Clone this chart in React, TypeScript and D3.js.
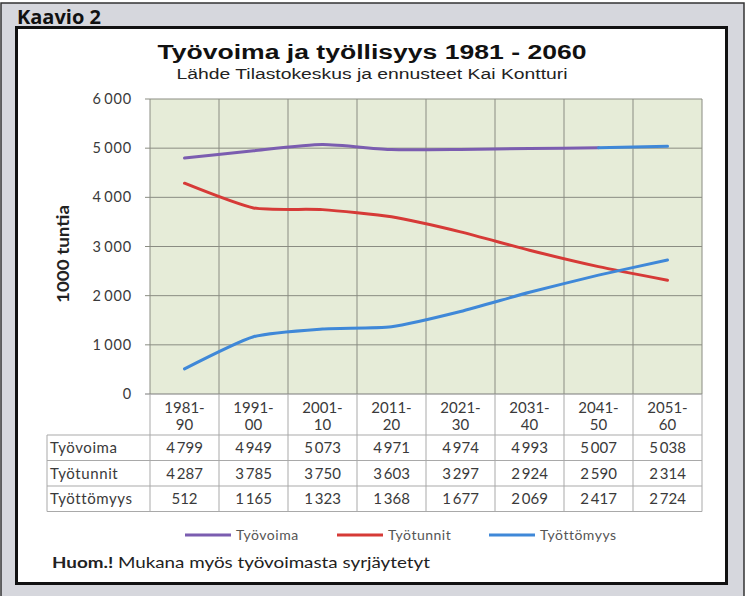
import React from 'react';
import * as d3 from 'd3';

// Chart data
const categories = ['1981-90', '1991-00', '2001-10', '2011-20', '2021-30', '2031-40', '2041-50', '2051-60'];
const tyovoima = [4799, 4949, 5073, 4971, 4974, 4993, 5007, 5038];
const tyotunnit = [4287, 3785, 3750, 3603, 3297, 2924, 2590, 2314];
const tyottomyys = [512, 1165, 1323, 1368, 1677, 2069, 2417, 2724];
const yTicks = [0, 1000, 2000, 3000, 4000, 5000, 6000];
const seriesNames = ['Työvoima', 'Työtunnit', 'Työttömyys'];

const PURPLE = '#7b5db0';
const RED = '#d63a37';
const BLUE = '#3f88d8';

const fi = d3.formatLocale({ decimal: ',', thousands: '\u2009', grouping: [3], currency: ['', ' €'] });
const fmt = fi.format(',d');

const App = () => {
  // plot area
  const left = 150;
  const right = 702;
  const top = 99;
  const bottom = 394;

  const x = d3.scaleBand<string>().domain(categories).range([left, right]);
  const y = d3.scaleLinear().domain([0, 6000]).range([bottom, top]);
  const cx = (c: string) => (x(c) ?? 0) + x.bandwidth() / 2;

  const line = (offset: number) =>
    d3
      .line<number>()
      .x((_, i) => cx(categories[i + offset]))
      .y(d => y(d))
      .curve(d3.curveCardinal.tension(0.4));

  const series = [
    { name: seriesNames[0], values: tyovoima, color: PURPLE },
    { name: seriesNames[1], values: tyotunnit, color: RED },
    { name: seriesNames[2], values: tyottomyys, color: BLUE },
  ];

  // table rows
  const rowTop = 435;
  const rowH = 25.5;
  const tableLeft = 47;
  const bounds = categories.map(c => x(c) ?? 0).concat([right]);

  const font = 'Lato, "Open Sans", sans-serif';
  const textCol = '#3a3a3a';

  // Työvoima is drawn purple up to 2041-50, the last segment in blue (as in the original)
  const tvPath = line(0)(tyovoima.slice(0, 7)) ?? '';
  const tvLast = line(6)(tyovoima.slice(6)) ?? '';

  return (
    <svg width={756} height={596} style={{ position: 'absolute', left: 0, top: 0 }}>
      <rect x={0} y={0} width={756} height={596} fill="#ffffff" />
      {/* outer gray frame */}
      <rect x={1} y={3} width={743} height={600} fill="#d6d7dd" stroke="#333" strokeWidth={1.5} />
      <text x={17} y={24} fontFamily='"Open Sans", sans-serif' fontWeight="bold" fontSize={20} fill="#111">
        Kaavio 2
      </text>
      {/* inner white box */}
      <rect x={16.5} y={27.5} width={710} height={556} fill="#fff" stroke="#111" strokeWidth={3} />

      {/* titles */}
      <text
        x={372}
        y={59}
        textAnchor="middle"
        fontFamily='"Liberation Sans", Arial, sans-serif'
        fontWeight="bold"
        fontSize={20}
        fill="#111"
        textLength={429}
        lengthAdjust="spacingAndGlyphs"
      >
        Työvoima ja työllisyys  1981 - 2060
      </text>
      <text
        x={372}
        y={79}
        textAnchor="middle"
        fontFamily='"Liberation Sans", Arial, sans-serif'
        fontSize={14}
        fill="#222"
        textLength={391}
        lengthAdjust="spacingAndGlyphs"
      >
        Lähde Tilastokeskus  ja ennusteet Kai Kontturi
      </text>

      {/* plot area */}
      <rect x={left} y={top} width={right - left} height={bottom - top} fill="#e6ecd8" />
      {yTicks.map(t => (
        <g key={t}>
          <line x1={left - 5} x2={right} y1={y(t)} y2={y(t)} stroke={t === 0 ? '#7a7a7a' : '#8a8c82'} strokeWidth={1} />
          <text
            x={132}
            y={y(t)}
            dy="0.35em"
            textAnchor="end"
            fontFamily={font}
            fontSize={14.5}
            letterSpacing={0.8}
            fill={textCol}
          >
            {fmt(t)}
          </text>
        </g>
      ))}
      {bounds.map((b, i) => (
        <line key={i} x1={b} x2={b} y1={top} y2={bottom} stroke="#8a8c82" strokeWidth={1} />
      ))}

      {/* y axis title */}
      <text
        transform={`translate(69,254) rotate(-90)`}
        textAnchor="middle"
        fontFamily={font}
        fontWeight="bold"
        fontSize={17}
        fill="#222"
        textLength={98}
        lengthAdjust="spacingAndGlyphs"
      >
        1000 tuntia
      </text>

      {/* lines */}
      <path d={tvPath} fill="none" stroke={PURPLE} strokeWidth={3} strokeLinecap="round" />
      <path d={tvLast} fill="none" stroke={BLUE} strokeWidth={3} strokeLinecap="round" />
      <path d={line(0)(tyotunnit) ?? ''} fill="none" stroke={RED} strokeWidth={3} strokeLinecap="round" />
      <path d={line(0)(tyottomyys) ?? ''} fill="none" stroke={BLUE} strokeWidth={3} strokeLinecap="round" />

      {/* data table */}
      {bounds.map((b, i) => (
        <line key={'tv' + i} x1={b} x2={b} y1={bottom} y2={rowTop + rowH * 3} stroke="#a9a9a9" strokeWidth={1} />
      ))}
      <line x1={tableLeft} x2={tableLeft} y1={rowTop} y2={rowTop + rowH * 3} stroke="#a9a9a9" />
      {[0, 1, 2, 3].map(r => (
        <line
          key={'h' + r}
          x1={tableLeft}
          x2={right}
          y1={rowTop + rowH * r}
          y2={rowTop + rowH * r}
          stroke="#a9a9a9"
          strokeWidth={1}
        />
      ))}
      {categories.map(c => {
        const [a, b] = c.split('-');
        return (
          <text key={c} x={cx(c)} textAnchor="middle" fontFamily={font} fontSize={15} fill={textCol}>
            <tspan x={cx(c)} y={413}>{a + '-'}</tspan>
            <tspan x={cx(c)} y={430}>{b}</tspan>
          </text>
        );
      })}
      {series.map((s, r) => (
        <g key={s.name}>
          <text
            x={50}
            y={rowTop + rowH * r + rowH / 2}
            dy="0.35em"
            fontFamily={font}
            fontSize={15}
            letterSpacing={0.6}
            fill={textCol}
          >
            {s.name}
          </text>
          {s.values.map((v, i) => (
            <text
              key={i}
              x={cx(categories[i])}
              y={rowTop + rowH * r + rowH / 2}
              dy="0.35em"
              textAnchor="middle"
              fontFamily={font}
              fontSize={15}
              fill={textCol}
            >
              {fmt(v)}
            </text>
          ))}
        </g>
      ))}

      {/* legend */}
      {series.map((s, i) => {
        const lx = [185, 337, 489][i];
        return (
          <g key={'lg' + s.name}>
            <line x1={lx} x2={lx + 46} y1={535} y2={535} stroke={s.color} strokeWidth={3} />
            <text x={lx + 51} y={535} dy="0.35em" fontFamily={font} fontSize={14} letterSpacing={0.5} fill="#555">
              {s.name}
            </text>
          </g>
        );
      })}

      {/* note */}
      <text
        x={52}
        y={568}
        fontFamily={font}
        fontSize={16}
        fill="#222"
        textLength={378}
        lengthAdjust="spacingAndGlyphs"
      >
        <tspan fontWeight="bold">Huom.!</tspan> Mukana myös työvoimasta syrjäytetyt
      </text>
    </svg>
  );
};

export default App;
